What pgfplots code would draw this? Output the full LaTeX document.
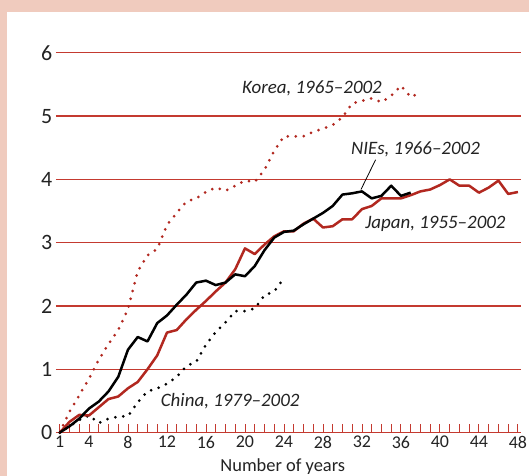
\documentclass[border=0pt]{standalone}
\usepackage{fontspec}
\setmainfont{Carlito}
\usepackage{pgfplots}
\pgfplotsset{compat=1.18}

\definecolor{bgsalmon}{RGB}{240,203,190}
\definecolor{jred}{RGB}{178,40,32}
\definecolor{gridred}{RGB}{196,58,48}
\definecolor{txt}{RGB}{35,35,35}

\begin{document}
\begin{tikzpicture}
\useasboundingbox (0,0) rectangle (529bp,476bp);
\fill[bgsalmon] (0,0) rectangle (529bp,476bp);
\fill[white] (7bp,0) rectangle (529bp,464bp);
\begin{axis}[
    at={(55.85bp,43.4bp)}, anchor=south west,
    scale only axis, width=465bp, height=392.5bp,
    xmin=0.6, xmax=48.3, ymin=0, ymax=6.2,
    axis x line=bottom, axis y line=left,
    x axis line style={draw=gridred, line width=1.2bp, -},
    y axis line style={draw=none, -},
    xtick={1,4,8,12,16,20,24,28,32,36,40,44,48},
    minor xtick={1,...,48},
    xtick style={draw=gridred, line width=0.9bp},
    major tick length=9bp, minor tick length=9bp,
    tick align=inside,
    ytick={0,...,6}, ytick style={draw=none},
    ymajorgrids, grid style={draw=gridred, line width=1.2bp},
    /pgf/number format/assume math mode=true,
    xticklabel style={font=\fontsize{18}{20}\selectfont, text=txt},
    yticklabel style={font=\fontsize{22}{24}\selectfont, text=txt},
    xlabel={Number of years},
    xlabel style={at={(axis description cs:0.488,0)}, anchor=center,
        yshift=-34bp, font=\fontsize{18.5}{20}\selectfont, text=txt},
    clip=false,
]
% Korea 1965-2002
\addplot[jred, line width=3bp, line cap=round, dash pattern=on 0bp off 8bp] coordinates {
(1,0) (2,0.33) (3,0.59) (4,0.85) (5,1.15) (6,1.40) (7,1.62) (8,1.95)
(9,2.55) (10,2.80) (11,2.90) (12,3.28) (13,3.47) (14,3.65) (15,3.70)
(16,3.80) (17,3.87) (18,3.82) (19,3.90) (20,3.98) (21,3.96) (22,4.15)
(23,4.45) (24,4.68) (25,4.68) (26,4.68) (27,4.75) (28,4.80) (29,4.86)
(30,4.98) (31,5.20) (32,5.24) (33,5.28) (34,5.22) (35,5.32) (36,5.48)
(37,5.30) (38,5.37)
};
% China 1979-2002
\addplot[black, line width=3bp, line cap=round, dash pattern=on 0bp off 8bp] coordinates {
(1,0) (2,0.10) (3,0.20) (4,0.27) (5,0.15) (6,0.22) (7,0.25) (8,0.26)
(9,0.48) (10,0.65) (11,0.70) (12,0.77) (13,0.88) (14,1.05) (15,1.12)
(16,1.39) (17,1.59) (18,1.74) (19,1.92) (20,1.92) (21,1.96) (22,2.17)
(23,2.23) (24,2.44)
};
% Japan 1955-2002
\addplot[jred, line width=2.5bp, line join=round] coordinates {
(1,0) (2,0.17) (3,0.28) (4,0.27) (5,0.40) (6,0.53) (7,0.57) (8,0.70)
(9,0.80) (10,1.00) (11,1.22) (12,1.58) (13,1.62) (14,1.79) (15,1.94)
(16,2.08) (17,2.23) (18,2.37) (19,2.58) (20,2.91) (21,2.82) (22,2.97)
(23,3.10) (24,3.18) (25,3.18) (26,3.30) (27,3.38) (28,3.24) (29,3.26)
(30,3.37) (31,3.37) (32,3.53) (33,3.58) (34,3.70) (35,3.70) (36,3.70)
(37,3.75) (38,3.81) (39,3.84) (40,3.91) (41,4.00) (42,3.90) (43,3.90)
(44,3.79) (45,3.87) (46,3.98) (47,3.77) (48,3.80)
};
% NIEs 1966-2002
\addplot[black, line width=2.5bp, line join=round] coordinates {
(1,0) (2,0.10) (3,0.22) (4,0.38) (5,0.49) (6,0.65) (7,0.88) (8,1.31)
(9,1.51) (10,1.44) (11,1.73) (12,1.85) (13,2.02) (14,2.18) (15,2.37)
(16,2.40) (17,2.33) (18,2.37) (19,2.50) (20,2.47) (21,2.63) (22,2.88)
(23,3.08) (24,3.17) (25,3.19) (26,3.29) (27,3.38) (28,3.47) (29,3.58)
(30,3.76) (31,3.78) (32,3.81) (33,3.70) (34,3.74) (35,3.90) (36,3.74)
(37,3.79)
};
\draw[black, line width=0.8bp] (axis cs:31.9,3.84) -- (axis cs:33.4,4.31);
\begin{scope}[every node/.style={anchor=base, text=txt,
    font=\fontsize{19}{21}\selectfont\itshape}]
\node at (axis cs:26.87,5.36) {Korea, 1965–2002};
\node at (axis cs:37.49,4.40) {NIEs, 1966–2002};
\node at (axis cs:39.54,3.22) {Japan, 1955–2002};
\node at (axis cs:18.48,0.42) {China, 1979–2002};
\end{scope}
\end{axis}
\end{tikzpicture}
\end{document}
